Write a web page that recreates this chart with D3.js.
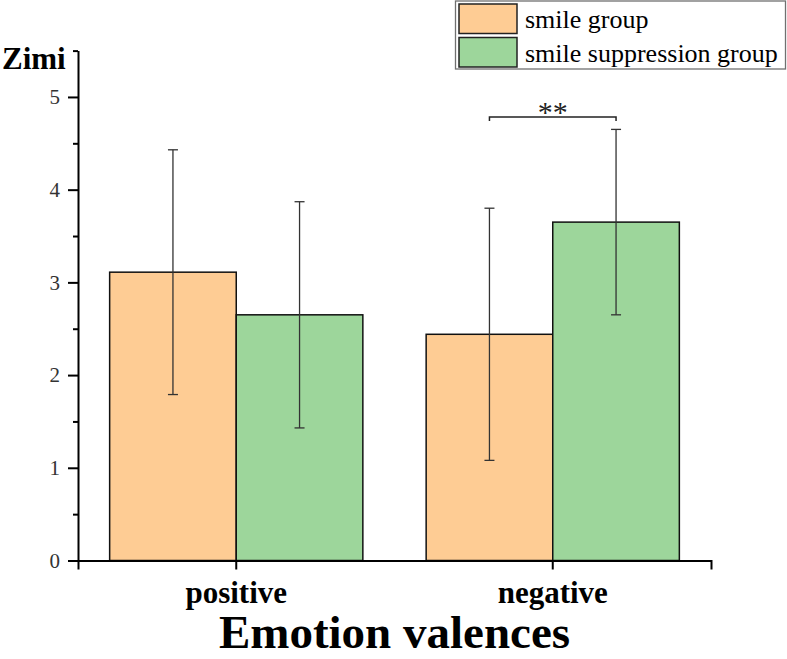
<!DOCTYPE html>
<html>
<head>
<meta charset="utf-8">
<script src="https://cdn.jsdelivr.net/npm/d3@7"></script>
<style>
  html, body { margin: 0; padding: 0; background: #fff; }
  svg { display: block; }
</style>
</head>
<body>
<svg id="chart" width="787" height="659"></svg>
<script>
const categories = ["positive", "negative"];
const seriesNames = ["smile group", "smile suppression group"];
const smileMeans = [3.11, 2.44];
const smileSD = [1.32, 1.36];
const suppressionMeans = [2.65, 3.65];
const suppressionSD = [1.22, 1.00];
const yTicks = [0, 1, 2, 3, 4, 5];
const yMinorTicks = [0.5, 1.5, 2.5, 3.5, 4.5, 5.5];
const yLabel = "Zimi";
const xLabel = "Emotion valences";
const sigLabel = "**";
const colors = ["#FECC94", "#9DD69B"];

const series = [
  { name: seriesNames[0], means: smileMeans, sd: smileSD, color: colors[0] },
  { name: seriesNames[1], means: suppressionMeans, sd: suppressionSD, color: colors[1] }
];

const svg = d3.select("#chart");
const serif = "'Liberation Serif', 'Times New Roman', serif";

const x0 = d3.scaleBand().domain(categories).range([78, 711]).padding(0);
const x1 = d3.scaleBand().domain(seriesNames)
  .range([x0.bandwidth() * 0.1, x0.bandwidth() * 0.9]).padding(0);
const y = d3.scaleLinear().domain([0, 5.5]).range([560.5, 50.6]);

// bars
const groups = svg.append("g").selectAll("g")
  .data(categories).join("g")
  .attr("transform", d => `translate(${x0(d)},0)`);

series.forEach(s => {
  groups.append("rect")
    .attr("x", (d) => x1(s.name))
    .attr("y", (d, i) => y(s.means[i]))
    .attr("width", x1.bandwidth())
    .attr("height", (d, i) => y(0) - y(s.means[i]))
    .attr("fill", s.color)
    .attr("stroke", "#111")
    .attr("stroke-width", 1.5);
});

// error bars
series.forEach(s => {
  categories.forEach((c, i) => {
    const cx = x0(c) + x1(s.name) + x1.bandwidth() / 2;
    const top = y(s.means[i] + s.sd[i]);
    const bot = y(s.means[i] - s.sd[i]);
    const g = svg.append("g").attr("stroke", "#333").attr("stroke-width", 1.3);
    g.append("line").attr("x1", cx).attr("x2", cx).attr("y1", top).attr("y2", bot);
    g.append("line").attr("x1", cx - 5).attr("x2", cx + 5).attr("y1", top).attr("y2", top);
    g.append("line").attr("x1", cx - 5).attr("x2", cx + 5).attr("y1", bot).attr("y2", bot);
  });
});

// axes
const yAxis = svg.append("g")
  .attr("transform", "translate(78,0)")
  .call(d3.axisLeft(y).tickValues(yTicks).tickSize(10).tickSizeOuter(0).tickPadding(8)
    .tickFormat(d3.format("d")));
yAxis.select(".domain").attr("stroke", "#000").attr("stroke-width", 2);
yAxis.selectAll(".tick line").attr("stroke", "#000").attr("stroke-width", 2);
yAxis.selectAll(".tick text").attr("font-family", serif).attr("font-size", 21).attr("fill", "#333");

const yMinor = svg.append("g")
  .attr("transform", "translate(78,0)")
  .call(d3.axisLeft(y).tickValues(yMinorTicks).tickSize(5).tickFormat(""));
yMinor.select(".domain").remove();
yMinor.selectAll(".tick line").attr("stroke", "#000").attr("stroke-width", 2);

const xAxis = svg.append("g")
  .attr("transform", `translate(0,${y(0)})`)
  .call(d3.axisBottom(x0).tickSize(9).tickSizeOuter(9).tickPadding(11));
xAxis.select(".domain").attr("stroke", "#000").attr("stroke-width", 2);
xAxis.selectAll(".tick line").attr("stroke", "#000").attr("stroke-width", 2);
xAxis.selectAll(".tick text").attr("font-family", serif).attr("font-size", 31)
  .attr("font-weight", "bold").attr("fill", "#000");

// axis titles
svg.append("text").attr("x", 2).attr("y", 69)
  .attr("font-family", serif).attr("font-size", 31).attr("font-weight", "bold")
  .text(yLabel);
svg.append("text").attr("x", (78 + 711) / 2).attr("y", 648)
  .attr("text-anchor", "middle")
  .attr("font-family", serif).attr("font-size", 47).attr("font-weight", "bold")
  .text(xLabel);

// significance bracket
const bx1 = x0(categories[1]) + x1(seriesNames[0]) + x1.bandwidth() / 2;
const bx2 = x0(categories[1]) + x1(seriesNames[1]) + x1.bandwidth() / 2;
const by = 117;
svg.append("path")
  .attr("d", `M${bx1},${by + 4}V${by}H${bx2}V${by + 4}`)
  .attr("fill", "none").attr("stroke", "#222").attr("stroke-width", 1.5);
svg.append("text").attr("x", (bx1 + bx2) / 2).attr("y", 122)
  .attr("text-anchor", "middle")
  .attr("font-family", serif).attr("font-size", 30).attr("fill", "#222")
  .text(sigLabel);

// legend
const legend = svg.append("g");
legend.append("rect").attr("x", 455.5).attr("y", 1).attr("width", 330).attr("height", 68)
  .attr("fill", "#fff").attr("stroke", "#707070").attr("stroke-width", 1.3);
series.forEach((s, i) => {
  legend.append("rect").attr("x", 459).attr("y", 4 + i * 33.5).attr("width", 58).attr("height", 29.5)
    .attr("fill", s.color).attr("stroke", "#222").attr("stroke-width", 1.5);
  legend.append("text").attr("x", 525).attr("y", 28 + i * 34)
    .attr("font-family", serif).attr("font-size", 26).attr("fill", "#000")
    .text(s.name);
});
</script>
</body>
</html>
